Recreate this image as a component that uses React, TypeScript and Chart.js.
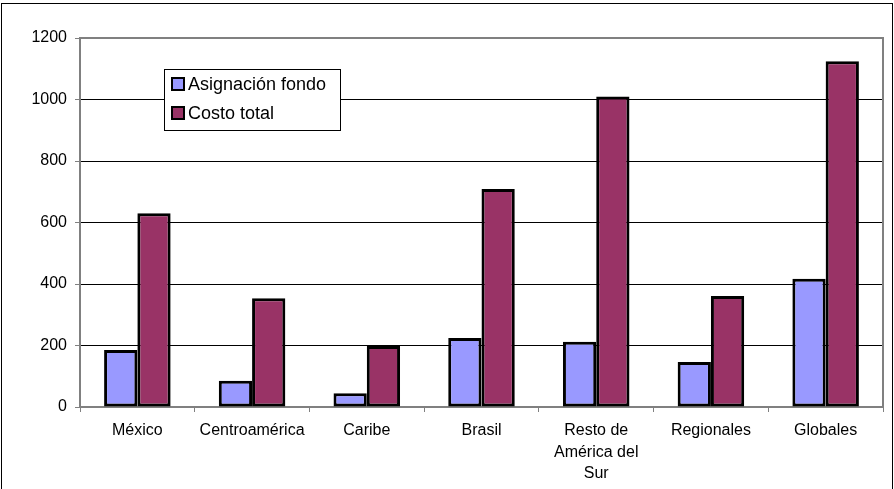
import React, { useEffect, useRef } from "react";
import { Chart, registerables } from "chart.js";

Chart.register(...registerables);

const categories: (string | string[])[] = [
  "México",
  "Centroamérica",
  "Caribe",
  "Brasil",
  ["Resto de", "América del", "Sur"],
  "Regionales",
  "Globales",
];
const asignacionFondo = [185, 85, 45, 224, 212, 146, 417];
const costoTotal = [630, 354, 198, 709, 1010, 361, 1124];
const seriesNames = ["Asignación fondo", "Costo total"];
const seriesColors = ["#9999FF", "#993366"];
const yTicks = [0, 200, 400, 600, 800, 1000, 1200];

const FONT = "'Liberation Sans', Arial, sans-serif";

const framePlugin = {
  id: "frame",
  beforeDatasetsDraw(chart: any) {
    const { ctx, chartArea } = chart;
    ctx.save();
    ctx.strokeStyle = "#808080";
    ctx.lineWidth = 2;
    ctx.beginPath();
    ctx.moveTo(chartArea.left, chartArea.top);
    ctx.lineTo(chartArea.right, chartArea.top);
    ctx.lineTo(chartArea.right, chartArea.bottom);
    ctx.stroke();
    ctx.restore();
  },
  afterDraw(chart: any) {
    const { ctx, width } = chart;
    ctx.save();
    ctx.strokeStyle = "#000";
    ctx.lineWidth = 1;
    ctx.strokeRect(1.5, 3.5, width - 3, 500);
    // legend
    const lx = 164.5, ly = 69.5, lw = 176, lh = 61;
    ctx.fillStyle = "#fff";
    ctx.fillRect(lx, ly, lw, lh);
    ctx.strokeRect(lx, ly, lw, lh);
    ctx.font = `18px ${FONT}`;
    ctx.textBaseline = "middle";
    const rows = [84, 113];
    seriesNames.forEach((name, i) => {
      const cy = rows[i];
      ctx.fillStyle = seriesColors[i];
      ctx.fillRect(172, cy - 6, 12, 12);
      ctx.lineWidth = 2;
      ctx.strokeStyle = "#000";
      ctx.strokeRect(172, cy - 6, 12, 12);
      ctx.lineWidth = 1;
      ctx.fillStyle = "#000";
      ctx.fillText(name, 188, cy + 1);
    });
    ctx.restore();
  },
};

export default function App() {
  const ref = useRef<HTMLCanvasElement | null>(null);
  useEffect(() => {
    document.body.style.margin = "0";
    const canvas = ref.current!;
    const chart = new Chart(canvas, {
      type: "bar",
      data: {
        labels: categories as any,
        datasets: [
          {
            label: seriesNames[0],
            data: asignacionFondo,
            backgroundColor: seriesColors[0],
            borderColor: "#000",
            borderWidth: 3,
            borderSkipped: false,
            categoryPercentage: 0.58,
            barPercentage: 1,
          },
          {
            label: seriesNames[1],
            data: costoTotal,
            backgroundColor: seriesColors[1],
            borderColor: "#000",
            borderWidth: 3,
            borderSkipped: false,
            categoryPercentage: 0.58,
            barPercentage: 1,
          },
        ],
      },
      options: {
        responsive: false,
        animation: false,
        layout: { padding: { left: 0, top: 38, right: 11, bottom: 0 } },
        plugins: {
          legend: { display: false },
          tooltip: { enabled: false },
          title: { display: false },
        },
        scales: {
          x: {
            offset: true,
            grid: {
              offset: true,
              drawOnChartArea: false,
              color: "#808080",
              tickLength: 5,
              lineWidth: 1,
            },
            border: { color: "#808080", width: 2 },
            ticks: {
              color: "#000",
              font: { family: FONT, size: 16, lineHeight: 1.35 },
              padding: 8,
              maxRotation: 0,
              autoSkip: false,
            },
            afterFit(scale: any) {
              scale.height = 82;
            },
          },
          y: {
            min: 0,
            max: 1200,
            afterBuildTicks(scale: any) {
              scale.ticks = yTicks.map((v) => ({ value: v }));
            },
            grid: {
              color: "#000",
              lineWidth: 1,
              tickLength: 5,
              tickColor: "#808080",
            },
            border: { color: "#808080", width: 2 },
            ticks: {
              color: "#000",
              font: { family: FONT, size: 16 },
              padding: 8,
              callback: (v: any) => String(v),
            },
            afterFit(scale: any) {
              scale.width = 80;
            },
          },
        },
      },
      plugins: [framePlugin],
    });
    return () => chart.destroy();
  }, []);
  return (
    <div style={{ width: 894, height: 489 }}>
      <canvas ref={ref} width={894} height={489} style={{ display: "block" }} />
    </div>
  );
}
